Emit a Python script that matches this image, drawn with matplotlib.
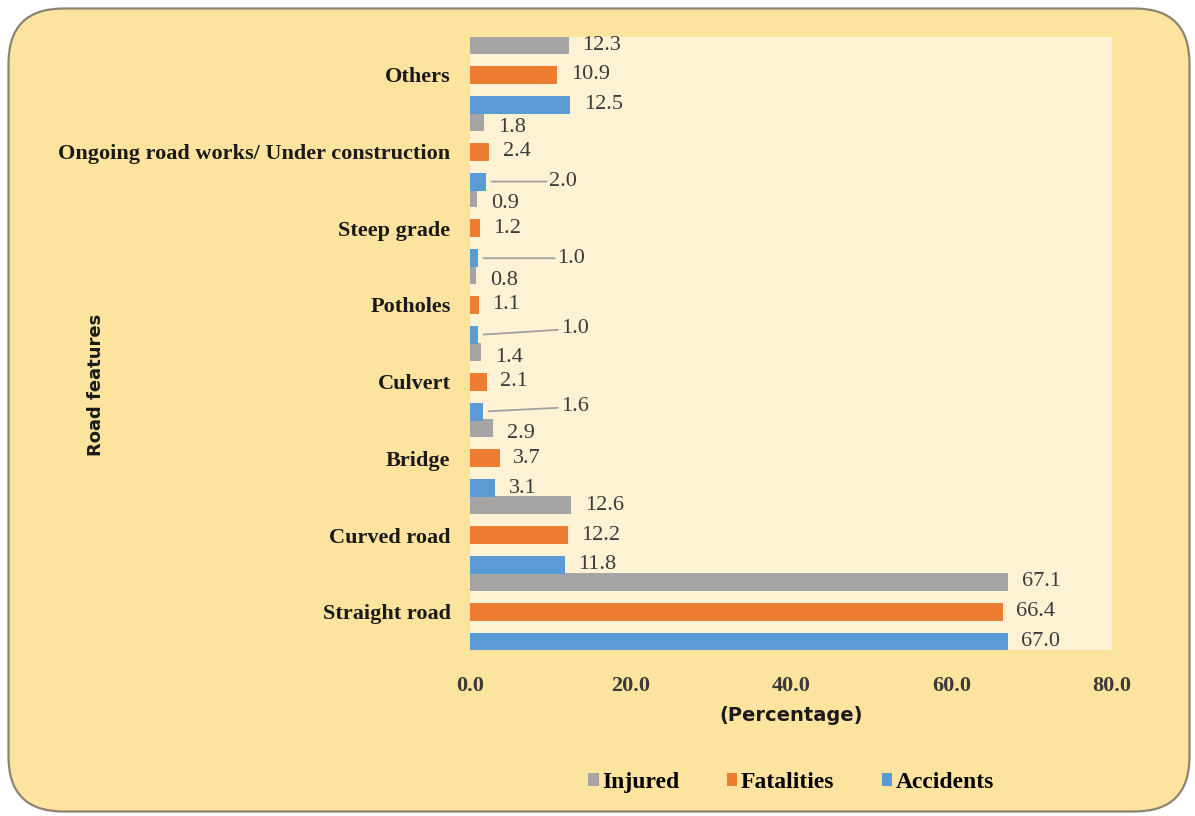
import numpy as np
import matplotlib.pyplot as plt
from matplotlib.patches import FancyBboxPatch

features = ["Straight road", "Curved road", "Bridge", "Culvert", "Potholes",
            "Steep grade", "Ongoing road works/ Under construction", "Others"]
injured = [67.1, 12.6, 2.9, 1.4, 0.8, 0.9, 1.8, 12.3]
fatalities = [66.4, 12.2, 3.7, 2.1, 1.1, 1.2, 2.4, 10.9]
accidents = [67.0, 11.8, 3.1, 1.6, 1.0, 1.0, 2.0, 12.5]
xticks = [0, 20, 40, 60, 80]

c_inj = "#A5A5A5"
c_fat = "#ED7D31"
c_acc = "#5B9BD5"
txt = "#3A3A3A"
serif = "Liberation Serif"

fig = plt.figure(figsize=(11.95, 8.16), dpi=100)
fig.patch.set_facecolor("white")

# rounded outer panel (in inches so the corners stay round)
box = FancyBboxPatch((0.085, 0.045), 11.81, 8.03,
                     boxstyle="round,pad=0,rounding_size=0.55",
                     transform=fig.dpi_scale_trans,
                     facecolor="#FDE49E", edgecolor="#8C8470", linewidth=1.6,
                     zorder=-5)
fig.patches.append(box)

ax = fig.add_axes([0.3933, 0.2034, 0.5372, 0.7517])
ax.set_zorder(2)
ax.set_facecolor("#FEF2D4")

y = np.arange(len(features))
h = 0.235
off = 0.39
ax.barh(y + off, injured, height=h, color=c_inj, label="Injured")
ax.barh(y, fatalities, height=h, color=c_fat, label="Fatalities")
ax.barh(y - off, accidents, height=h, color=c_acc, label="Accidents")

lab_kw = dict(fontsize=16, family=serif, color=txt, va="center", ha="left")
gap = 1.7

# leader-line labels for the tiny accident bars: index -> (text x, text y shift)
leaders = {6: (9.9, 0.0), 5: (10.9, 0.0), 4: (11.3, 0.08), 3: (11.3, 0.06)}

for i in range(len(features)):
    ax.text(injured[i] + gap, y[i] + off - (0.07 if injured[i] < 3 else 0), f"{injured[i]:.1f}", **lab_kw)
    ax.text(fatalities[i] + gap, y[i], f"{fatalities[i]:.1f}", **lab_kw)
    if i in leaders:
        tx, dy = leaders[i]
        ax.annotate(f"{accidents[i]:.1f}", xy=(accidents[i], y[i] - off),
                    xytext=(tx, y[i] - off + dy),
                    arrowprops=dict(arrowstyle="-", color="#A0A0A0", lw=1.3,
                                    shrinkA=0, shrinkB=4),
                    **lab_kw)
    else:
        ax.text(accidents[i] + gap, y[i] - off, f"{accidents[i]:.1f}", **lab_kw)

ax.set_xlim(0, 80)
ax.set_ylim(-0.5, len(features) - 0.5)
ax.set_xticks(xticks)
ax.set_xticklabels([f"{v:.1f}" for v in xticks], family=serif,
                   fontweight="bold", fontsize=16, color=txt)
ax.set_yticks(y)
ax.set_yticklabels(features, family=serif, fontweight="bold", fontsize=16,
                   color="#1A1A1A")
ax.tick_params(length=0, pad=14)
ax.tick_params(axis="x", pad=19)
for s in ax.spines.values():
    s.set_visible(False)

ax.set_xlabel("(Percentage)", fontsize=14, fontweight="bold", color="#1A1A1A",
              labelpad=7)
fig.text(0.08, 0.528, "Road features", rotation=90, fontsize=13,
         fontweight="bold", color="#1A1A1A", ha="center", va="center")

handles, labels = ax.get_legend_handles_labels()
fig.legend(handles, labels, loc="center", bbox_to_anchor=(0.662, 0.041),
           ncol=3, frameon=False, handlelength=0.45, handleheight=0.45,
           handletextpad=0.15, columnspacing=2.0,
           prop=dict(family=serif, weight="bold", size=17))

fig.savefig("out.png", dpi=100, facecolor=fig.get_facecolor())
